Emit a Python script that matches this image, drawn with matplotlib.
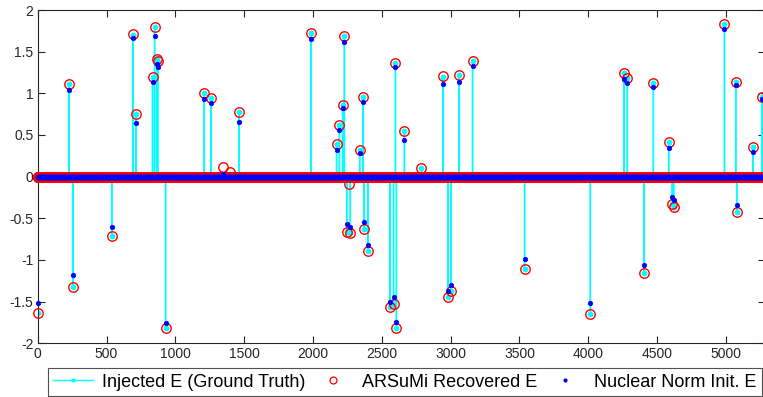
import numpy as np
import matplotlib
matplotlib.use("Agg")
import matplotlib.pyplot as plt
from matplotlib.lines import Line2D

plt.rcParams['font.family'] = ['Liberation Sans', 'DejaVu Sans']

# Length of the sparse error vector
n_samples = 5280

# Non-zero entries: index, injected value, ARSuMi recovery, nuclear-norm init
spike_idx = [3, 228, 257, 538, 693, 715, 834, 849, 866, 872, 929, 1210, 1260,
             1343, 1396, 1464, 1985, 2171, 2192, 2215, 2228, 2245, 2264, 2271,
             2339, 2364, 2369, 2398, 2560, 2585, 2599, 2606, 2664, 2788, 2943,
             2982, 3004, 3062, 3159, 3537, 4015, 4259, 4284, 4405, 4473, 4584,
             4610, 4620, 4989, 5071, 5078, 5195, 5263]
truth_vals = [-1.64, 1.11, -1.33, -0.71, 1.70, 0.75, 1.19, 1.79, 1.41, 1.38,
              -1.82, 1.00, 0.94, 0.00, 0.00, 0.78, 1.72, 0.39, 0.62, 0.86,
              1.69, -0.66, 0.00, -0.68, 0.32, 0.96, -0.63, -0.89, -1.57, -1.53,
              1.36, -1.82, 0.55, 0.10, 1.20, -1.45, -1.37, 1.22, 1.39, -1.11,
              -1.65, 1.24, 1.18, -1.16, 1.12, 0.41, -0.33, -0.36, 1.83, 1.14,
              -0.42, 0.36, 0.96]
arsumi_vals = [-1.64, 1.11, -1.33, -0.71, 1.71, 0.75, 1.19, 1.79, 1.41, 1.39,
               -1.82, 1.00, 0.94, 0.11, 0.06, 0.78, 1.72, 0.39, 0.62, 0.86,
               1.69, -0.66, -0.09, -0.68, 0.32, 0.96, -0.63, -0.89, -1.57, -1.53,
               1.36, -1.82, 0.55, 0.10, 1.21, -1.45, -1.37, 1.22, 1.39, -1.11,
               -1.65, 1.24, 1.18, -1.16, 1.12, 0.41, -0.33, -0.36, 1.83, 1.14,
               -0.42, 0.36, 0.96]
nuclear_vals = [-1.52, 1.04, -1.18, -0.61, 1.66, 0.64, 1.13, 1.69, 1.35, 1.32,
                -1.76, 0.93, 0.88, 0.03, 0.00, 0.66, 1.65, 0.32, 0.56, 0.82,
                1.61, -0.57, 0.00, -0.60, 0.28, 0.90, -0.55, -0.82, -1.50, -1.45,
                1.32, -1.75, 0.44, 0.00, 1.11, -1.37, -1.30, 1.13, 1.33, -0.99,
                -1.52, 1.17, 1.12, -1.06, 1.07, 0.34, -0.25, -0.28, 1.77, 1.10,
                -0.34, 0.29, 0.93]

x_ticks = [0, 500, 1000, 1500, 2000, 2500, 3000, 3500, 4000, 4500, 5000]
y_ticks = [-2, -1.5, -1, -0.5, 0, 0.5, 1, 1.5, 2]
y_tick_labels = ['-2', '-1.5', '-1', '-0.5', '0', '0.5', '1', '1.5', '2']

labels = ['Injected E (Ground Truth)', 'ARSuMi Recovered E', 'Nuclear Norm Init. E']

CYAN, RED, BLUE = (0, 1, 1), (1, 0, 0), (0, 0, 1)

# Dense vectors built from the sparse entries
idx = np.arange(n_samples)
E_true = np.zeros(n_samples)
E_arsumi = np.zeros(n_samples)
E_nuclear = np.zeros(n_samples)
E_true[spike_idx] = truth_vals
E_arsumi[spike_idx] = arsumi_vals
E_nuclear[spike_idx] = nuclear_vals

W, H = 763, 397
fig = plt.figure(figsize=(W / 100, H / 100), dpi=100)
left_px, right_px, top_px, bottom_px = 37.7, 764.5, 10.0, 343.3
ax = fig.add_axes([left_px / W, 1 - bottom_px / H,
                   (right_px - left_px) / W, (bottom_px - top_px) / H])

ax.plot(idx, E_true, color=CYAN, lw=1.0, marker='.', ms=6.5, zorder=2)
ax.plot(idx, E_arsumi, ls='none', marker='o', ms=6.8, mfc='none',
        mec=RED, mew=1.0, zorder=3, clip_on=False)
ax.plot(idx, E_nuclear, ls='none', marker='.', ms=6.5, mew=0.5,
        color=BLUE, zorder=4, clip_on=False)

ax.set_xlim(0, n_samples)
ax.set_ylim(-2, 2)
ax.set_xticks(x_ticks)
ax.set_yticks(y_ticks)
ax.set_yticklabels(y_tick_labels)
ax.tick_params(direction='in', length=5, width=0.8, top=True, right=True,
               labelsize=10, colors='#262626', pad=3)
for s in ax.spines.values():
    s.set_color('#262626')
    s.set_linewidth(0.8)

# Legend entries with smaller symbols
handles = [
    Line2D([], [], color=CYAN, lw=1.0, marker='.', ms=4),
    Line2D([], [], ls='none', marker='o', ms=5, mfc='none', mec=RED, mew=0.9),
    Line2D([], [], ls='none', marker='.', ms=4, color=BLUE),
]

leg_l, leg_r, leg_t, leg_b = 48, 762, 366, 396
leg = fig.legend(handles=handles, labels=labels, loc='lower left', ncol=3,
                 mode='expand',
                 bbox_to_anchor=(leg_l / W, 1 - leg_b / H, (leg_r - leg_l) / W,
                                 (leg_b - leg_t) / H),
                 fontsize=13, frameon=True, fancybox=False, borderaxespad=0,
                 handlelength=2.2, handletextpad=0.5, borderpad=0.3)
leg.get_frame().set_edgecolor('#262626')
leg.get_frame().set_linewidth(0.8)

fig.savefig('out.png', dpi=100)
